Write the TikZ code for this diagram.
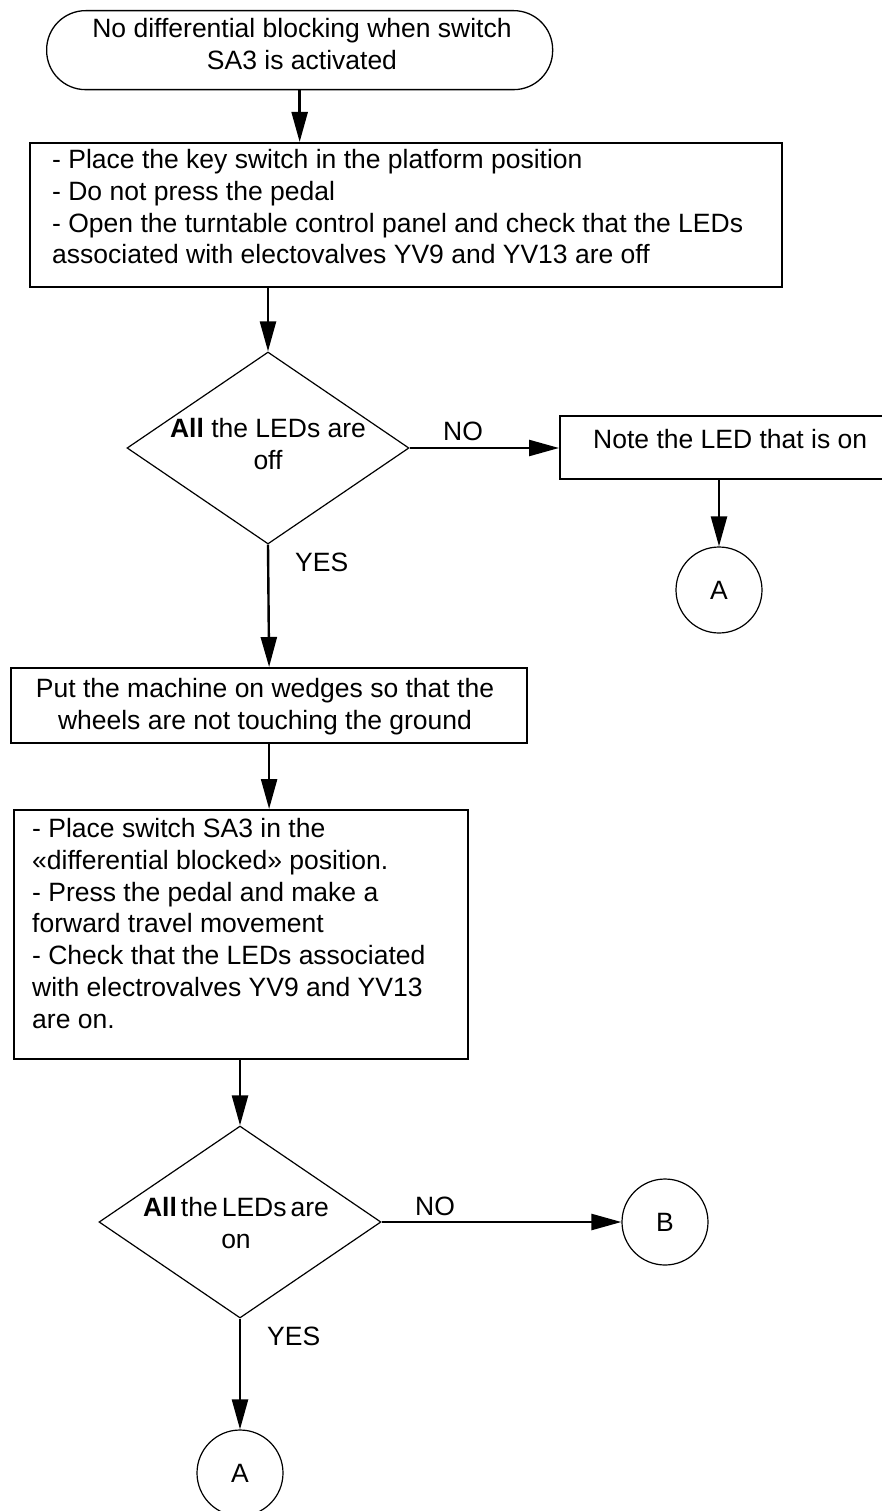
\documentclass[tikz,border=0pt]{standalone}
\usepackage{fontspec}
\setmainfont{Liberation Sans}
\usetikzlibrary{shapes.geometric,arrows.meta}
\begin{document}
\begin{tikzpicture}[x=1pt,y=-1pt,
  every node/.style={font=\fontsize{26.5}{31.8}\selectfont},
  boxnode/.style={draw, line width=2.2pt, rectangle, inner sep=0pt, anchor=north west},
  termnode/.style={draw, line width=1.3pt, rounded corners=39pt, inner sep=0pt, anchor=north west},
  decnode/.style={diamond, draw, line width=1.2pt, inner sep=0pt, minimum width=282pt, minimum height=192pt},
  connnode/.style={circle, draw, line width=1.2pt, minimum size=86pt, inner sep=0pt},
  txt/.style={inner sep=0pt},
  conn/.style={line width=2.4pt, -{Triangle[length=30pt,width=16pt]}},
  plainconn/.style={line width=2.4pt}
]
\useasboundingbox (0,0) rectangle (882,1511);

% shapes
\node[termnode, minimum width=506pt, minimum height=79pt] (start) at (46,10) {};
\node[boxnode, minimum width=752pt, minimum height=144pt] (b1) at (29,142) {};
\node[decnode] (d1) at (268,448) {};
\node[boxnode, minimum width=342pt, minimum height=63pt] (n1) at (559,415) {};
\node[connnode] (a1) at (719,590) {A};
\node[boxnode, minimum width=516pt, minimum height=75pt] (b2) at (10,667) {};
\node[boxnode, minimum width=454pt, minimum height=249pt] (b3) at (13,809) {};
\node[decnode] (d2) at (240,1222) {};
\node[connnode] (b) at (665,1222) {B};
\node[connnode] (a2) at (240,1473) {A};

% texts
\node[txt, anchor=north, align=center] (tstart) at (302,18)
  {No differential blocking when switch\\SA3 is activated};
\node[txt, anchor=north west, align=left] (tb1) at (52,149)
  {- Place the key switch in the platform position\\
   - Do not press the pedal\\
   - Open the turntable control panel and check that the LEDs\\
   associated with electovalves YV9 and YV13 are off};
\node[txt, anchor=north, align=center] (td1) at (268,418)
  {\textbf{All} the LEDs are\\off};
\node[txt, anchor=base west] (tn1) at (593,448) {Note the LED that is on};
\node[txt, anchor=north, align=center] (tb2) at (265,678)
  {Put the machine on wedges so that the\\wheels are not touching the ground};
\node[txt, anchor=north west, align=left] (tb3) at (32,818)
  {- Place switch SA3 in the\\
   «differential blocked» position.\\
   - Press the pedal and make a\\
   forward travel movement\\
   - Check that the LEDs associated\\
   with electrovalves YV9 and YV13\\
   are on.};
\node[txt, anchor=north, align=center] (td2) at (236,1197)
  {\textbf{All}\hspace{4pt}the\hspace{4pt}LEDs\hspace{4pt}are\\on};

% labels
\node[txt, anchor=base] (no1) at (463,440) {NO};
\node[txt, anchor=base west] (yes1) at (295,571) {YES};
\node[txt, anchor=base] (no2) at (435,1215) {NO};
\node[txt, anchor=base west] (yes2) at (267,1345) {YES};

% connectors
\draw[conn] (start.south) -- (start.south |- b1.north);
\draw[conn] (d1.north |- b1.south) -- (d1.north);
\draw[conn] (d1.east) -- (d1.east -| n1.west);
\draw[conn] (a1.north |- n1.south) -- (a1.north);
\draw[conn] (d1.south) -- (b2.north);
\draw[conn] (b2.south) -- (b2.south |- b3.north);
\draw[conn] (d2.north |- b3.south) -- (d2.north);
\draw[conn] (d2.east) -- (b.west);
\draw[conn] (d2.south) -- (a2.north);
\end{tikzpicture}
\end{document}
